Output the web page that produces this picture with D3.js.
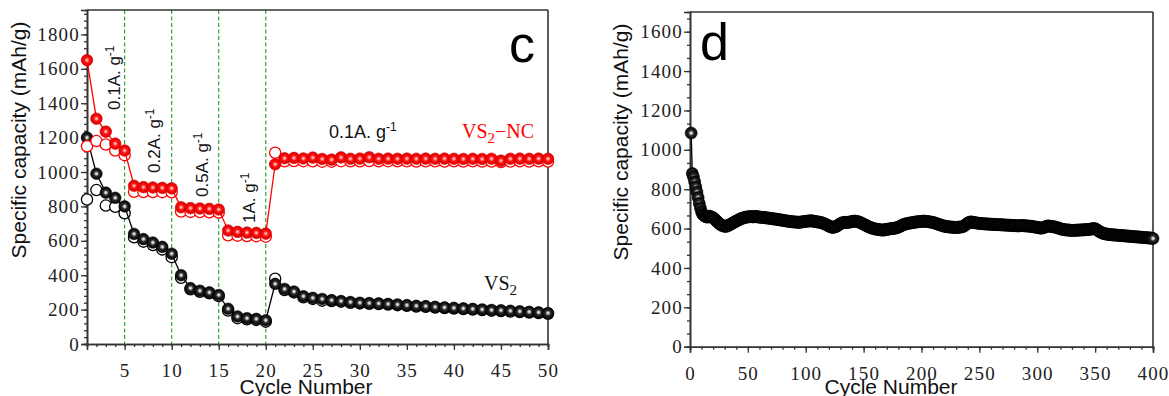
<!DOCTYPE html>
<html>
<head>
<meta charset="utf-8">
<script src="https://cdn.jsdelivr.net/npm/d3@7"></script>
<style>
  body { margin: 0; background: #fff; }
</style>
</head>
<body>
<svg id="chart" width="1169" height="396" font-family="Liberation Sans, Arial, sans-serif"></svg>
<script>
// ---- datos panel c (rate) ----
const rateCycles = d3.range(1, 51);
const vs2NcDischarge = [
  1650, 1310, 1235, 1165, 1125, 920, 912, 910, 908, 905,
  795, 790, 788, 786, 782, 660, 652, 648, 646, 642,
  1045, 1080, 1082, 1079, 1084, 1076, 1072, 1085, 1077, 1078,
  1086, 1077, 1078, 1077, 1078, 1077, 1078, 1077, 1078, 1077,
  1076, 1077, 1076, 1077, 1066, 1077, 1078, 1077, 1078, 1077
];
const vs2NcCharge = [
  1150, 1180, 1160, 1125, 1098, 885, 884, 884, 883, 882,
  770, 768, 767, 766, 764, 632, 630, 628, 627, 624,
  1112, 1062, 1064, 1063, 1062, 1060, 1060, 1063, 1062, 1062,
  1064, 1062, 1063, 1062, 1062, 1061, 1062, 1062, 1061, 1062,
  1061, 1062, 1061, 1061, 1058, 1061, 1062, 1061, 1062, 1061
];
const vs2Discharge = [
  1200, 990, 880, 850, 800, 640, 610, 590, 565, 525,
  400, 325, 310, 300, 285, 205, 160, 150, 146, 138,
  350, 320, 305, 278, 268, 262, 255, 250, 244, 240,
  238, 236, 233, 230, 226, 222, 220, 216, 213, 210,
  207, 204, 201, 198, 196, 193, 190, 187, 184, 180
];
const vs2Charge = [
  840, 895, 805, 798, 760, 620, 595, 575, 550, 505,
  385, 318, 304, 295, 278, 195, 150, 144, 140, 130,
  380, 314, 300, 272, 262, 252, 250, 246, 240, 236,
  234, 232, 229, 226, 222, 218, 216, 212, 209, 206,
  203, 200, 197, 194, 192, 189, 186, 183, 180, 176
];
const rateSteps = [5, 10, 15, 20];
const rateXTicks = [5, 10, 15, 20, 25, 30, 35, 40, 45, 50];
const rateYTicks = [0, 200, 400, 600, 800, 1000, 1200, 1400, 1600, 1800];

// ---- datos panel d (ciclado largo) ----
const longCapacity = [
  1085, 880, 862, 838, 812, 786, 758, 728, 704, 684,
  672, 666, 662, 660, 658, 661, 663, 660, 657, 655,
  650, 644, 638, 632, 627, 622, 618, 615, 613, 612,
  611, 613, 615, 618, 622, 625, 628, 632, 635, 638,
  641, 644, 647, 650, 652, 654, 656, 657, 659, 659,
  660, 661, 661, 660, 659, 661, 662, 660, 659, 658,
  658, 657, 656, 657, 655, 654, 654, 653, 652, 651,
  650, 649, 649, 648, 647, 646, 645, 644, 643, 642,
  641, 640, 639, 638, 637, 636, 636, 635, 634, 634,
  633, 633, 632, 631, 633, 633, 634, 635, 636, 637,
  637, 638, 639, 639, 640, 638, 637, 636, 635, 634,
  633, 632, 631, 629, 627, 625, 622, 619, 616, 613,
  610, 608, 606, 607, 608, 610, 613, 617, 621, 625,
  628, 630, 631, 632, 631, 631, 632, 633, 634, 636,
  637, 638, 637, 636, 635, 633, 631, 628, 625, 622,
  619, 616, 613, 610, 607, 605, 603, 601, 599, 598,
  597, 596, 595, 594, 593, 593, 592, 594, 595, 596,
  597, 598, 599, 600, 600, 601, 602, 603, 605, 607,
  610, 613, 616, 619, 621, 623, 625, 626, 627, 628,
  629, 630, 631, 632, 633, 634, 635, 635, 636, 637,
  637, 638, 637, 636, 636, 635, 634, 633, 632, 631,
  629, 627, 625, 623, 621, 619, 617, 615, 613, 612,
  611, 610, 609, 608, 608, 607, 607, 606, 605, 606,
  606, 607, 607, 608, 609, 611, 614, 618, 623, 628,
  631, 633, 634, 632, 631, 630, 629, 628, 627, 626,
  626, 625, 625, 624, 624, 623, 623, 623, 622, 622,
  622, 621, 621, 621, 620, 620, 620, 619, 619, 619,
  618, 618, 618, 617, 617, 617, 616, 616, 615, 615,
  615, 614, 614, 614, 614, 615, 615, 615, 614, 614,
  613, 613, 612, 612, 611, 610, 609, 608, 607, 606,
  605, 604, 602, 603, 604, 606, 609, 612, 613, 613,
  612, 611, 610, 609, 608, 607, 605, 603, 601, 599,
  597, 596, 595, 594, 593, 593, 592, 592, 591, 590,
  591, 591, 591, 592, 592, 592, 593, 593, 593, 594,
  594, 594, 595, 595, 596, 597, 598, 599, 600, 599,
  596, 592, 588, 584, 581, 578, 576, 574, 573, 572,
  571, 570, 569, 569, 568, 568, 567, 567, 566, 566,
  565, 565, 564, 564, 563, 563, 562, 562, 561, 561,
  560, 560, 559, 559, 558, 558, 557, 557, 556, 556,
  555, 555, 554, 554, 553, 553, 552, 552, 551, 550
];
const longXTicks = [0, 50, 100, 150, 200, 250, 300, 350, 400];
const longYTicks = [0, 200, 400, 600, 800, 1000, 1200, 1400, 1600];

const axisColor = '#333';
const serif = 'Liberation Serif, Times New Roman, serif';
const svg = d3.select('#chart');
const defs = svg.append('defs');

// Gradientes para las esferas
function sphereGradient(id, stops) {
  const grad = defs.append('radialGradient').attr('id', id)
    .attr('cx', '50%').attr('cy', '50%').attr('r', '50%');
  stops.forEach(([off, col]) => grad.append('stop').attr('offset', off).attr('stop-color', col));
}
sphereGradient('ballRed', [['0%', '#ffe8e8'], ['22%', '#ff8080'], ['45%', '#ff1010'], ['100%', '#d80000']]);
sphereGradient('ballBlack', [['0%', '#ffffff'], ['20%', '#bbbbbb'], ['45%', '#2a2a2a'], ['100%', '#000000']]);

// Ejes con ticks mayores y menores
function drawAxes(g, x, y, w, h, xTicks, xMinor, yTicks, yMinor) {
  g.append('g').attr('transform', `translate(0,${h})`)
    .call(d3.axisBottom(x).tickValues(xMinor).tickSize(3).tickFormat(''));
  g.append('g').attr('class', 'xmaj').attr('transform', `translate(0,${h})`)
    .call(d3.axisBottom(x).tickValues(xTicks).tickSize(6).tickFormat(d3.format('d')));
  g.append('g')
    .call(d3.axisLeft(y).tickValues(yMinor).tickSize(3).tickFormat(''));
  g.append('g').attr('class', 'ymaj')
    .call(d3.axisLeft(y).tickValues(yTicks).tickSize(6).tickPadding(1).tickFormat(d3.format('d')));

  g.selectAll('.domain').attr('stroke', axisColor).attr('stroke-width', 1.6);
  g.selectAll('.tick line').attr('stroke', axisColor).attr('stroke-width', 1.3);
  g.selectAll('g').attr('font-family', serif).attr('font-size', 19);
  g.selectAll('.tick text')
    .attr('fill', '#222')
    .attr('font-family', serif)
    .attr('font-size', 19)
    .attr('letter-spacing', 1.2);
  g.selectAll('.xmaj .tick text').attr('y', 33).attr('dy', 0);

  // marco superior y derecho
  g.append('line').attr('x1', 0).attr('x2', w).attr('y1', 0).attr('y2', 0)
    .attr('stroke', axisColor).attr('stroke-width', 1.6);
  g.append('line').attr('x1', w).attr('x2', w).attr('y1', 0).attr('y2', h)
    .attr('stroke', axisColor).attr('stroke-width', 1.6);
}

function drawSeries(g, x, y, xs, values, opts) {
  if (opts.line) {
    g.append('path')
      .datum(values)
      .attr('fill', 'none')
      .attr('stroke', opts.color)
      .attr('stroke-width', 1.3)
      .attr('d', d3.line().x((d, i) => x(xs[i])).y((d) => y(d)));
  }
  g.append('g').selectAll('circle')
    .data(values)
    .enter()
    .append('circle')
    .attr('cx', (d, i) => x(xs[i]))
    .attr('cy', (d) => y(d))
    .attr('r', opts.r)
    .attr('fill', opts.filled ? `url(#${opts.grad})` : '#fff')
    .attr('stroke', opts.filled ? opts.edge : opts.color)
    .attr('stroke-width', opts.filled ? 0.6 : 1.3);
}

function rotatedLabel(g, x, y, main, size) {
  const t = g.append('text')
    .attr('transform', `translate(${x},${y}) rotate(-90)`)
    .attr('font-size', size)
    .attr('fill', '#111')
    .text(main);
  t.append('tspan').attr('dy', -6).attr('font-size', 12).text('-1');
}

// ================= panel c =================
const cW = 461, cH = 334;
const gc = svg.append('g').attr('transform', 'translate(87,10)');
const xc = d3.scaleLinear().domain([1, 50]).range([0, cW]);
const yc = d3.scaleLinear().domain([0, 1942]).range([cH, 0]);

gc.selectAll('.step')
  .data(rateSteps)
  .enter()
  .append('line')
  .attr('x1', (d) => xc(d)).attr('x2', (d) => xc(d))
  .attr('y1', 0).attr('y2', cH)
  .attr('stroke', '#1f9e1f')
  .attr('stroke-width', 1.1)
  .attr('stroke-dasharray', '4,2.5');

drawAxes(gc, xc, yc, cW, cH, rateXTicks, d3.range(1, 51), rateYTicks, d3.range(0, 1941, 40));

drawSeries(gc, xc, yc, rateCycles, vs2Charge, { color: '#000', r: 5.6, filled: false });
drawSeries(gc, xc, yc, rateCycles, vs2Discharge, { color: '#000', r: 5.8, filled: true, grad: 'ballBlack', edge: '#000', line: true });
drawSeries(gc, xc, yc, rateCycles, vs2NcCharge, { color: '#f00', r: 5.6, filled: false });
drawSeries(gc, xc, yc, rateCycles, vs2NcDischarge, { color: '#f00', r: 5.8, filled: true, grad: 'ballRed', edge: '#d00000', line: true });

// anotaciones rotadas de densidad de corriente
rotatedLabel(gc, 120 - 87, 110 - 10, '0.1A. g', 17);
rotatedLabel(gc, 160 - 87, 173 - 10, '0.2A. g', 17);
rotatedLabel(gc, 208 - 87, 197 - 10, '0.5A. g', 17);
rotatedLabel(gc, 255 - 87, 223 - 10, '1A. g', 17);

const lbl01 = gc.append('text').attr('x', 329 - 87).attr('y', 138 - 10)
  .attr('font-size', 18).attr('fill', '#111').text('0.1A. g');
lbl01.append('tspan').attr('dy', -7).attr('font-size', 12).text('-1');

const ncLbl = gc.append('text').attr('x', 462 - 87).attr('y', 138 - 10)
  .attr('fill', '#ff0000').attr('font-family', serif).attr('font-size', 20).text('VS');
ncLbl.append('tspan').attr('dy', 5).attr('font-size', 15).text('2');
ncLbl.append('tspan').attr('dy', -5).attr('font-size', 20).text('\u2212NC');

const vsLbl = gc.append('text').attr('x', 484 - 87).attr('y', 290 - 10)
  .attr('fill', '#111').attr('font-family', serif).attr('font-size', 20).text('VS');
vsLbl.append('tspan').attr('dy', 5).attr('font-size', 15).text('2');

gc.append('text').attr('x', 509 - 87).attr('y', 62 - 10)
  .attr('font-size', 52).attr('fill', '#000').text('c');

// ================= panel d =================
const dW = 463, dH = 334.7;
const gd = svg.append('g').attr('transform', 'translate(690,12)');
const xd = d3.scaleLinear().domain([0, 400]).range([0, dW]);
const yd = d3.scaleLinear().domain([0, 1700]).range([dH, 0]);

drawAxes(gd, xd, yd, dW, dH, longXTicks, d3.range(0, 401, 10), longYTicks, d3.range(0, 1700, 200 / 3));

const longCycles = longCapacity.map((d, i) => i + 1);
drawSeries(gd, xd, yd, longCycles, longCapacity, { color: '#000', r: 6, filled: true, grad: 'ballBlack', edge: '#000', line: true });

gd.append('text').attr('x', 700 - 690).attr('y', 60 - 12)
  .attr('font-size', 52).attr('fill', '#000').text('d');

// ---- títulos de ejes ----
svg.append('text')
  .attr('transform', 'translate(26,140) rotate(-90)')
  .attr('text-anchor', 'middle').attr('font-size', 21).attr('fill', '#111')
  .text('Specific capacity (mAh/g)');
svg.append('text')
  .attr('transform', 'translate(628,142) rotate(-90)')
  .attr('text-anchor', 'middle').attr('font-size', 21).attr('fill', '#111')
  .text('Specific capacity (mAh/g)');
svg.append('text').attr('x', 306).attr('y', 394)
  .attr('text-anchor', 'middle').attr('font-size', 21).attr('fill', '#111')
  .text('Cycle Number');
svg.append('text').attr('x', 891).attr('y', 394)
  .attr('text-anchor', 'middle').attr('font-size', 21).attr('fill', '#111')
  .text('Cycle Number');
</script>
</body>
</html>
